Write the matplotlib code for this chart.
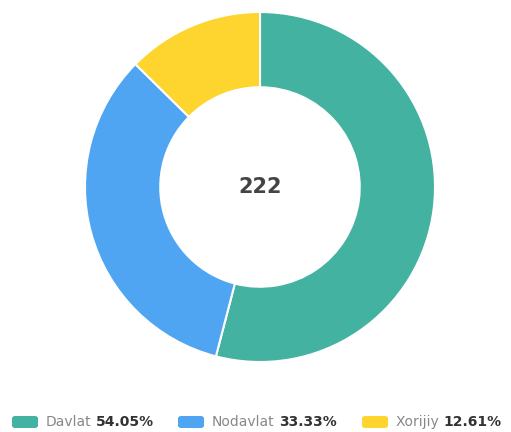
import matplotlib
matplotlib.use("Agg")
import matplotlib.pyplot as plt
from matplotlib.patches import FancyBboxPatch

labels = ["Davlat", "Nodavlat", "Xorijiy"]
counts = [120, 74, 28]
percents = ["54.05%", "33.33%", "12.61%"]
colors = ["#43b2a0", "#4fa5f2", "#fed42f"]
total_label = "222"

W, H = 511, 432
fig = plt.figure(figsize=(W / 100, H / 100), dpi=100)

# donut
cx, cy, r = 260, 187, 175
ax = fig.add_axes([(cx - r) / W, (H - cy - r) / H, 2 * r / W, 2 * r / H])
ax.pie(counts, colors=colors, startangle=90, counterclock=False, radius=1,
       wedgeprops=dict(width=0.43, edgecolor="white", linewidth=1.5))
ax.set_xlim(-1, 1)
ax.set_ylim(-1, 1)
ax.set_aspect("equal")
ax.text(0, 0, total_label, ha="center", va="center", fontsize=15,
        fontweight="bold", color="#444444")

# legend drawn by hand
fig.canvas.draw()
renderer = fig.canvas.get_renderer()
box_x = [12, 178, 362]
ly = 422
for x0, lab, pct, col in zip(box_x, labels, percents, colors):
    patch = FancyBboxPatch(((x0) / W, (H - ly - 6) / H), 26 / W, 12 / H,
                           boxstyle="round,pad=0,rounding_size=0.006",
                           transform=fig.transFigure, facecolor=col,
                           edgecolor="none")
    fig.patches.append(patch)
    t1 = fig.text((x0 + 34) / W, (H - ly) / H, lab, ha="left", va="center",
                  fontsize=10, color="#888888")
    bb = t1.get_window_extent(renderer)
    fig.text((bb.x1 + 4) / W, (H - ly) / H, pct, ha="left", va="center",
             fontsize=10, fontweight="bold", color="#333333")

fig.savefig("out.png", dpi=100)
